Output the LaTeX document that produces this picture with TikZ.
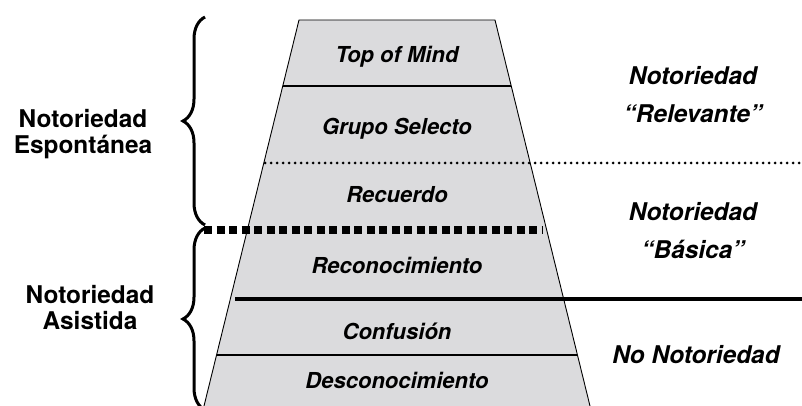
\documentclass[tikz,border=0pt]{standalone}
\usepackage{fontspec}
\setmainfont{TeX Gyre Heros}
\usetikzlibrary{decorations.pathreplacing}

\definecolor{fondo}{RGB}{219,219,221}

\begin{document}
\begin{tikzpicture}[x=1pt,y=-1pt,
  nivel/.style={font=\fontsize{22}{24}\selectfont\bfseries\itshape,anchor=base,inner sep=0pt},
  zona/.style={font=\fontsize{24.4}{38}\selectfont\bfseries\itshape,align=center,inner sep=0pt},
  tipo/.style={font=\fontsize{24.4}{26}\selectfont\bfseries,align=center,inner sep=0pt},
  llave/.style={decorate,decoration={brace,amplitude=22pt},line width=3pt},
  fina/.style={line width=1.3pt}]
\useasboundingbox (0,0) rectangle (802,406);
\coordinate (tl) at (299,20);
\coordinate (tr) at (495,20);
\coordinate (bl) at (204,406);
\coordinate (br) at (590,406);
\fill [fondo] (tl) -- (tr) -- (br) -- (bl) -- cycle;
\draw [line width=0.9pt] (bl) -- (tl) -- (tr) -- (br);
\draw [fina] (282.8,86) -- (511.2,86);
\draw [fina] (216.6,355) -- (577.4,355);
\draw [line width=3pt,line cap=round,dash pattern=on 0pt off 6pt] (265,163) -- (802,163);
\draw [line width=8pt,dash pattern=on 8pt off 4.5pt] (204,230) -- (543,230);
\draw [line width=4pt] (235,299) -- (802,299);
\node [nivel] (top) at (397,63) {Top of Mind};
\node [nivel] (selecto) at (397,135) {Grupo Selecto};
\node [nivel] (recuerdo) at (397,202) {Recuerdo};
\node [nivel] (reconoc) at (397,273) {Reconocimiento};
\node [nivel] (confusion) at (397,339) {Confusión};
\node [nivel] (desconoc) at (397,388) {Desconocimiento};
\node [zona] (relevante) at (693,95) {Notoriedad\\“Relevante”};
\node [zona] (basica) at (693,231) {Notoriedad\\“Básica”};
\node [zona,anchor=base] (nada) at (696,363) {No Notoriedad};
\draw [llave] (205,225) -- (205,17);
\draw [llave] (205,410) -- (205,228);
\node [tipo] (espontanea) at (83,134) {Notoriedad\\Espontánea};
\node [tipo] (asistida) at (90,308) {Notoriedad\\Asistida};
\end{tikzpicture}
\end{document}
